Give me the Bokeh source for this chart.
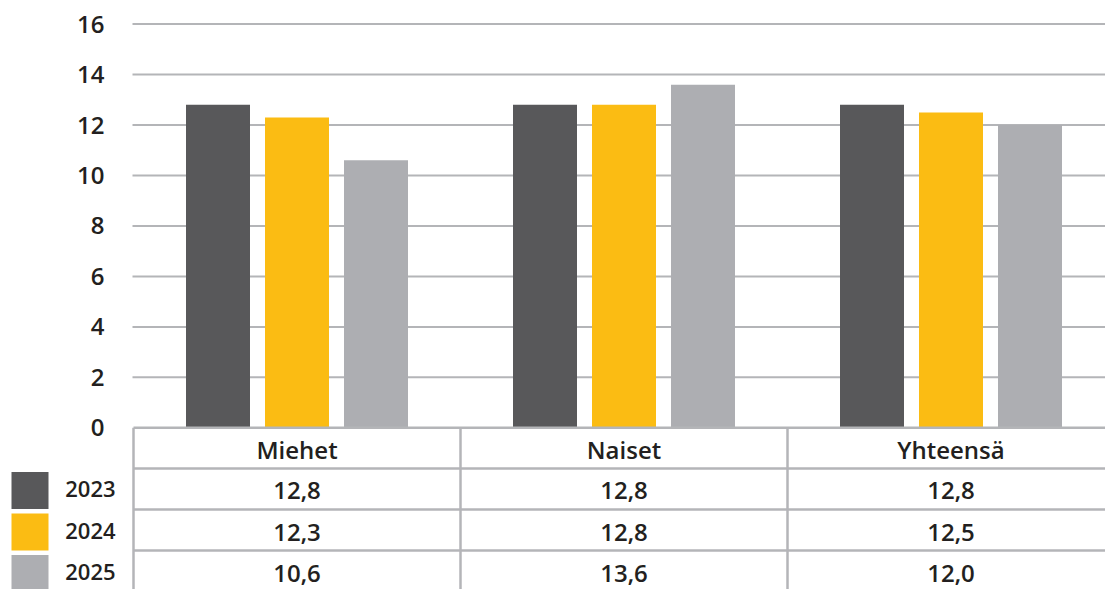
from bokeh.plotting import figure
from bokeh.models import Range1d
from bokeh.core.properties import value
from bokeh.embed import file_html
from bokeh.resources import INLINE

# ---- data ----
categories = ["Miehet", "Naiset", "Yhteensä"]
years = ["2023", "2024", "2025"]
v2023 = [12.8, 12.8, 12.8]
v2024 = [12.3, 12.8, 12.5]
v2025 = [10.6, 13.6, 12.0]
y_ticks = [0, 2, 4, 6, 8, 10, 12, 14, 16]

series = [v2023, v2024, v2025]
colors = ["#58585a", "#fbbc13", "#adaeb2"]
TEXT = "#231f20"
LINE = "#b4b5b8"
FONT = value("Open Sans SemiBold")

W, H = 1105, 589
COL_PX = 327.0           # pixels per category column
X0_PX = 133.0            # pixel of x=0 (first column boundary)
Y0_PX = 427.3            # pixel of y=0
PX_PER_Y = 25.23         # pixels per y unit

def xd(px):
    return (px - X0_PX) / COL_PX

def yd(py):
    return (Y0_PX - py) / PX_PER_Y

p = figure(width=W, height=H, output_backend="svg", toolbar_location=None,
           x_range=Range1d(xd(0), xd(W)), y_range=Range1d(yd(H), yd(0)),
           x_axis_location=None, y_axis_location=None, min_border=0)
p.outline_line_color = None
p.xgrid.visible = False
p.ygrid.visible = False
p.background_fill_color = "white"
p.border_fill_color = "white"

n = len(categories)
centers = [i + 0.5 for i in range(n)]

# grid lines (above zero)
gy = [t for t in y_ticks if t > 0]
p.segment(x0=[xd(132)] * len(gy), x1=[xd(W)] * len(gy), y0=gy, y1=gy,
          line_color=LINE, line_width=2)

# bars
bar_w = 64 / COL_PX
step = 79 / COL_PX
for k, (vals, col) in enumerate(zip(series, colors)):
    xs = [c + (k - 1) * step for c in centers]
    p.vbar(x=xs, top=vals, bottom=0, width=bar_w, fill_color=col, line_color=None)

# y tick labels
p.text(x=[xd(104)] * len(y_ticks), y=y_ticks, text=[str(t) for t in y_ticks],
       text_align="right", text_baseline="middle", text_font=FONT,
       text_font_size="24px", text_color=TEXT)

# table lines
h_lines = [0, yd(468), yd(509), yd(550)]
p.segment(x0=[0] * len(h_lines), x1=[xd(W)] * len(h_lines), y0=h_lines, y1=h_lines,
          line_color=LINE, line_width=2.5)
v_lines = [0, 1, 2]
p.segment(x0=v_lines, x1=v_lines, y0=[0] * 3, y1=[yd(H + 5)] * 3,
          line_color=LINE, line_width=2.5)

# table header
header_y = yd(449)
p.text(x=centers, y=[header_y] * n, text=categories, text_align="center",
       text_baseline="middle", text_font=FONT, text_font_size="24px",
       text_color=TEXT)

row_y = [yd(490), yd(531.5), yd(573)]
for k, vals in enumerate(series):
    labels = [f"{v:.1f}".replace(".", ",") for v in vals]
    p.text(x=centers, y=[row_y[k]] * n, text=labels, text_align="center",
           text_baseline="middle", text_font=FONT, text_font_size="24px",
           text_color=TEXT)

# legend swatches and year labels
p.rect(x=[xd(29.5)] * 3, y=row_y, width=37, height=37, width_units="screen",
       height_units="screen", fill_color=colors, line_color=None)
p.text(x=[xd(115)] * 3, y=[y + 0.04 for y in row_y], text=years, text_align="right",
       text_baseline="middle", text_font=FONT, text_font_size="22px",
       text_color=TEXT)

open("out.html", "w").write(file_html(p, INLINE))
